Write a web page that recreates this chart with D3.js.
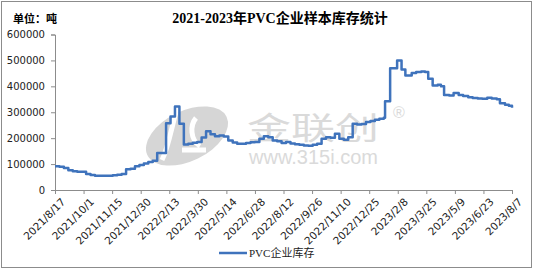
<!DOCTYPE html>
<html>
<head>
<meta charset="utf-8">
<script src="https://cdn.jsdelivr.net/npm/d3@7"></script>
<style>
  body { margin: 0; background: #fff; }
  svg { display: block; }
</style>
</head>
<body>
<div id="chart"></div>
<script>
// Data (dates and inventory in tonnes)
const dates = [
  '2021-08-17','2021-08-24','2021-08-31','2021-09-07','2021-09-14','2021-09-21','2021-09-28',
  '2021-10-05','2021-10-12','2021-10-19','2021-10-26','2021-11-02','2021-11-09','2021-11-16',
  '2021-11-23','2021-11-30','2021-12-07','2021-12-14','2021-12-21','2021-12-28','2022-01-04',
  '2022-01-11','2022-01-18','2022-01-25','2022-02-01','2022-02-08','2022-02-15','2022-02-22',
  '2022-03-01','2022-03-08','2022-03-15','2022-03-22','2022-03-29','2022-04-05','2022-04-12',
  '2022-04-19','2022-04-26','2022-05-03','2022-05-10','2022-05-17','2022-05-24','2022-05-31',
  '2022-06-07','2022-06-14','2022-06-21','2022-06-28','2022-07-05','2022-07-12','2022-07-19',
  '2022-07-26','2022-08-02','2022-08-09','2022-08-16','2022-08-23','2022-08-30','2022-09-06',
  '2022-09-13','2022-09-20','2022-09-27','2022-10-04','2022-10-11','2022-10-18','2022-10-25',
  '2022-11-01','2022-11-08','2022-11-15','2022-11-22','2022-11-29','2022-12-06','2022-12-13',
  '2022-12-20','2022-12-27','2023-01-03','2023-01-10','2023-01-17','2023-01-19','2023-01-27',
  '2023-02-07','2023-02-14','2023-02-20','2023-03-02','2023-03-09','2023-03-17','2023-03-23',
  '2023-03-28','2023-04-04','2023-04-12','2023-04-17','2023-04-22','2023-04-30','2023-05-07',
  '2023-05-15','2023-05-22','2023-05-30','2023-06-06','2023-06-14','2023-06-21','2023-06-29',
  '2023-07-06','2023-07-14','2023-07-19','2023-07-27','2023-08-02','2023-08-07'
];
const inventory = [
  92000, 90000, 85000, 76000, 72000, 70000, 70000,
  62000, 58000, 55000, 55000, 55000, 55000, 57000,
  59000, 62000, 80000, 82000, 92000, 96000, 102000,
  108000, 113000, 143000, 143000, 258000, 284000, 322000,
  256000, 176000, 178000, 182000, 185000, 203000, 227000,
  215000, 207000, 210000, 206000, 191000, 183000, 178000,
  178000, 181000, 184000, 185000, 198000, 207000, 204000,
  191000, 188000, 181000, 185000, 179000, 177000, 175000,
  172000, 171000, 175000, 178000, 198000, 204000, 202000,
  217000, 198000, 194000, 204000, 256000, 253000, 255000,
  262000, 266000, 271000, 275000, 279000, 342000, 470000,
  500000, 465000, 442000, 451000, 455000, 457000, 455000,
  429000, 403000, 406000, 400000, 367000, 365000, 374000,
  367000, 363000, 358000, 355000, 353000, 352000, 356000,
  353000, 350000, 335000, 329000, 325000, 317000
];
const tickLabels = [
  '2021/8/17','2021/10/1','2021/11/15','2021/12/30','2022/2/13','2022/3/30','2022/5/14',
  '2022/6/28','2022/8/12','2022/9/26','2022/11/10','2022/12/25','2023/2/8','2023/3/25',
  '2023/5/9','2023/6/23','2023/8/7'
];
const yTicks = [0, 100000, 200000, 300000, 400000, 500000, 600000];

const title = '2021-2023年PVC企业样本库存统计';
const unitLabel = '单位：吨';
const seriesName = 'PVC企业库存';

const W = 533, H = 269;
const margin = { left: 55, right: 21, top: 34.5, bottom: 79 };
const lineColor = '#3F73BC';
const parse = d3.timeParse('%Y-%m-%d');
const parseTick = d3.timeParse('%Y/%m/%d');

const data = dates.map((d, i) => ({ date: parse(d), value: inventory[i] }));

const svg = d3.select('#chart').append('svg')
  .attr('width', W).attr('height', H);

// outer frame
svg.append('rect')
  .attr('x', 1.5).attr('y', 1.5)
  .attr('width', W - 3).attr('height', H - 3)
  .attr('fill', '#fff').attr('stroke', '#8c8c8c').attr('stroke-width', 1);

const x = d3.scaleTime()
  .domain([parseTick(tickLabels[0]), parseTick(tickLabels[tickLabels.length - 1])])
  .range([margin.left, W - margin.right]);
const y = d3.scaleLinear()
  .domain([0, 600000])
  .range([H - margin.bottom, margin.top]);

// watermark
const wm = svg.append('g').attr('fill', '#d6d6d6');
wm.append('ellipse')
  .attr('cx', 187).attr('cy', 136).attr('rx', 44).attr('ry', 25)
  .attr('transform', 'rotate(-26 187 136)');
wm.append('path')
  .attr('d', 'M176 112 C171 130 168 148 162 160 M182 150 L206 150 M196 118 C190 125 190 140 200 146')
  .attr('fill', 'none').attr('stroke', '#fff').attr('stroke-width', 5);
wm.append('text')
  .attr('transform', 'translate(247,139) scale(1,0.7)')
  .style('font-family', '"Noto Sans CJK SC", sans-serif')
  .style('font-size', '44px')
  .attr('fill', '#dadada')
  .text('金联创');
wm.append('text')
  .attr('x', 249).attr('y', 164)
  .style('font-family', '"Liberation Sans", Arial, sans-serif')
  .style('font-size', '20px')
  .attr('fill', '#dadada')
  .text('www.315i.com');
wm.append('text')
  .attr('x', 393).attr('y', 118)
  .style('font-family', '"Liberation Sans", Arial, sans-serif')
  .style('font-size', '16px')
  .attr('fill', '#dadada')
  .text('®');

// y axis
const yAxis = svg.append('g')
  .attr('transform', `translate(${margin.left},0)`)
  .call(d3.axisLeft(y).tickValues(yTicks).tickSize(4).tickPadding(6).tickFormat(d3.format('d')));
yAxis.select('.domain').attr('stroke', '#8c8c8c');
yAxis.selectAll('.tick line').attr('stroke', '#8c8c8c');
yAxis.selectAll('text')
  .style('font-family', '"DejaVu Sans", sans-serif')
  .style('font-size', '10px')
  .attr('fill', '#222');

// x axis
const xAxis = svg.append('g')
  .attr('transform', `translate(0,${H - margin.bottom})`)
  .call(d3.axisBottom(x)
    .tickValues(tickLabels.map(parseTick))
    .tickSize(4)
    .tickFormat((d, i) => tickLabels[i]));
xAxis.select('.domain').attr('stroke', '#8c8c8c');
xAxis.selectAll('.tick line').attr('stroke', '#8c8c8c');
xAxis.selectAll('text')
  .style('font-family', '"DejaVu Sans", sans-serif')
  .style('font-size', '10.5px')
  .attr('fill', '#222')
  .style('text-anchor', 'end')
  .attr('dy', '0.35em')
  .attr('transform', 'translate(3,5) rotate(-45)');

// series line
const line = d3.line()
  .x(d => x(d.date))
  .y(d => y(d.value))
  .curve(d3.curveStepAfter);
svg.append('path')
  .datum(data)
  .attr('d', line)
  .attr('fill', 'none')
  .attr('stroke', lineColor)
  .attr('stroke-width', 2.5)
  .attr('stroke-linejoin', 'round');

// title and unit
svg.append('text')
  .attr('x', 280).attr('y', 23)
  .attr('text-anchor', 'middle')
  .style('font-family', '"Liberation Serif", "Noto Sans CJK SC", serif')
  .style('font-size', '14px')
  .style('font-weight', 'bold')
  .text(title);
svg.append('text')
  .attr('x', 13).attr('y', 23)
  .style('font-family', '"Noto Sans CJK SC", sans-serif')
  .style('font-size', '11px')
  .style('font-weight', 'bold')
  .text(unitLabel);

// legend
svg.append('line')
  .attr('x1', 219).attr('x2', 247)
  .attr('y1', 253).attr('y2', 253)
  .attr('stroke', lineColor).attr('stroke-width', 2.5);
svg.append('text')
  .attr('x', 249).attr('y', 257)
  .style('font-family', '"Liberation Serif", "Noto Sans CJK SC", serif')
  .style('font-size', '11px')
  .attr('fill', '#222')
  .text(seriesName);
</script>
</body>
</html>
